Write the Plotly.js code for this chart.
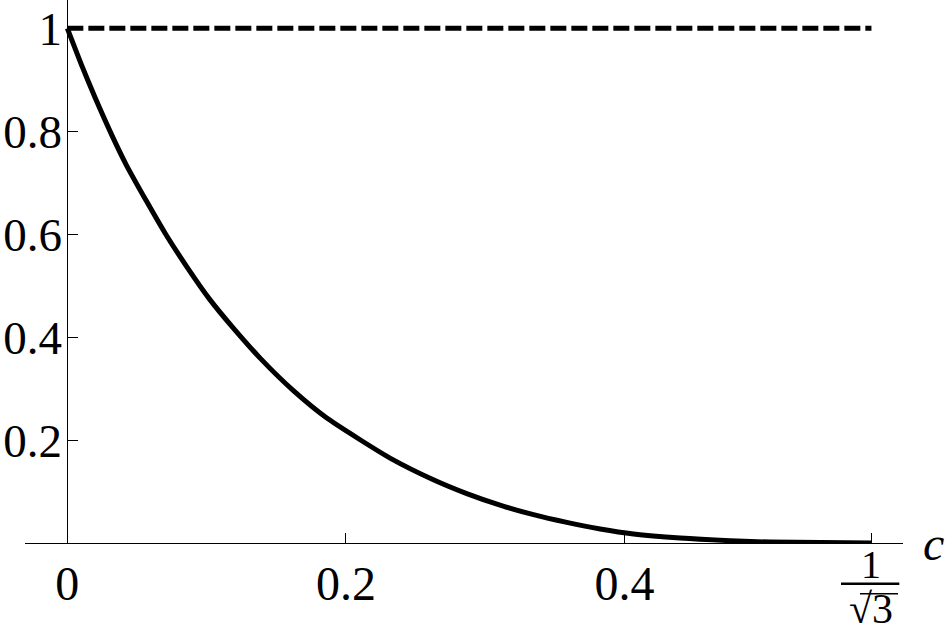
<!DOCTYPE html>
<html>
<head>
<meta charset="utf-8">
<script src="https://cdn.plot.ly/plotly-3.0.1.min.js"></script>
<style>html,body{margin:0;padding:0;background:#fff;}#chart{width:947px;height:638px;}</style>
</head>
<body>
<div id="chart"></div>
<script>
// Data
const curveX = [0, 0.0109, 0.0199, 0.0321, 0.0422, 0.0570, 0.0702, 0.0857, 0.1025, 0.1192, 0.1384, 0.1623, 0.1863, 0.2102, 0.2317, 0.2628, 0.2868, 0.3107, 0.3347, 0.3586, 0.3826, 0.4065, 0.4400, 0.4759, 0.5046, 0.57735];
const curveY = [1, 0.924, 0.8654, 0.7915, 0.7353, 0.6633, 0.6019, 0.5371, 0.4724, 0.4175, 0.3592, 0.2960, 0.2427, 0.2006, 0.165, 0.1229, 0.0960, 0.0735, 0.055, 0.040, 0.0272, 0.0175, 0.0097, 0.0045, 0.0018, 0];
const dashX = [0, 0.57735];
const dashY = [1, 1];
const xTickVals = [0, 0.2, 0.4, 0.57735];
const xTickText = ['0', '0.2', '0.4', ''];
const yTickVals = [0.2, 0.4, 0.6, 0.8, 1];
const yTickText = ['0.2', '0.4', '0.6', '0.8', '1'];
const xRange = [-0.0304, 0.6];
const yRange = [0, 1.055];

const serif = '"Liberation Serif", "Times New Roman", serif';
const yPos = (0 - xRange[0]) / (xRange[1] - xRange[0]);

const traces = [
  {x: dashX, y: dashY, mode: 'lines', line: {color: 'black', width: 5, dash: '16px,5px'}, hoverinfo: 'skip', cliponaxis: false},
  {x: curveX, y: curveY, mode: 'lines', line: {color: 'black', width: 5, shape: 'spline', smoothing: 0.6}, hoverinfo: 'skip', cliponaxis: false}
];

const layout = {
  width: 947, height: 638,
  margin: {l: 25, r: 44, t: 0, b: 95, pad: 0},
  paper_bgcolor: 'white', plot_bgcolor: 'white',
  showlegend: false,
  font: {family: serif, color: 'black', size: 48},
  xaxis: {
    range: xRange, showgrid: false, zeroline: false,
    showline: true, linecolor: 'black', linewidth: 1,
    ticks: 'inside', ticklen: 10, tickwidth: 1, tickcolor: 'black',
    tickvals: xTickVals, ticktext: xTickText,
    tickfont: {family: serif, size: 48, color: 'black'},
    ticklabelstandoff: -2
  },
  yaxis: {
    range: yRange, showgrid: false, zeroline: false,
    anchor: 'free', position: yPos,
    showline: true, linecolor: 'black', linewidth: 1,
    ticks: 'inside', ticklen: 10, tickwidth: 1, tickcolor: 'black',
    tickvals: yTickVals, ticktext: yTickText,
    tickfont: {family: serif, size: 47, color: 'black'},
    ticklabelstandoff: -4
  },
  annotations: [
    {text: 'c', xref: 'paper', yref: 'paper', x: 1.035, y: 0.0, xanchor: 'center', yanchor: 'middle', showarrow: false,
     font: {family: serif, size: 48, color: 'black', style: 'italic'}},
    {text: '1', xref: 'x', yref: 'paper', x: 0.57735, y: -0.04, xanchor: 'center', yanchor: 'middle', showarrow: false,
     font: {family: serif, size: 40, color: 'black'}},
    {text: '√3', xref: 'x', yref: 'paper', x: 0.57735, y: -0.122, xanchor: 'center', yanchor: 'middle', showarrow: false,
     font: {family: serif, size: 42, color: 'black'}}
  ],
  shapes: [
    {type: 'line', xref: 'paper', yref: 'paper', x0: 0.9294, x1: 0.9958, y0: -0.0749, y1: -0.0749, line: {color: 'black', width: 2.5}},
    {type: 'line', xref: 'paper', yref: 'paper', x0: 0.951, x1: 0.9943, y0: -0.0933, y1: -0.0933, line: {color: 'black', width: 1.5}}
  ]
};

Plotly.newPlot('chart', traces, layout, {staticPlot: true, displayModeBar: false});
</script>
</body>
</html>
